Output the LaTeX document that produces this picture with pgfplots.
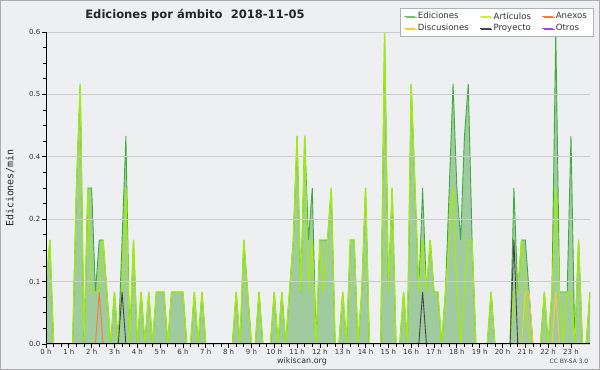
\documentclass[border=0pt]{standalone}
\usepackage{fontspec}
\setmainfont{DejaVu Sans}
\setmonofont{DejaVu Sans Mono}
\usepackage{pgfplots}
\pgfplotsset{compat=1.18}
\usepackage{pgfplotstable}
\usetikzlibrary{shadows}

\definecolor{bg}{HTML}{EEEFF1}
\definecolor{edline}{HTML}{3DAE3D}
\definecolor{edleg}{HTML}{66CC66}
\definecolor{edfill}{HTML}{9FCB9F}
\definecolor{artline}{HTML}{A2EC0C}
\definecolor{artleg}{HTML}{CCF03A}
\definecolor{anexline}{HTML}{FF7A33}
\definecolor{discline}{HTML}{FFCC22}
\definecolor{projline}{HTML}{444444}
\definecolor{otrosline}{HTML}{9944FF}

\pgfplotstableread{
t ed art
0.00000 0.1 0.1
0.16667 0.2 0.2
0.33333 0 0
0.50000 0 0
0.66667 0 0
0.83333 0 0
1.00000 0 0
1.16667 0 0
1.33333 0.3 0.3
1.50000 0.5 0.5
1.66667 0 0
1.83333 0.3 0.3
2.00000 0.3 0.1
2.16667 0.1 0.1
2.33333 0.2 0.1
2.50000 0.2 0.2
2.66667 0.1 0.1
2.83333 0 0
3.00000 0.1 0.1
3.16667 0 0
3.33333 0.2 0.1
3.50000 0.4 0.3
3.66667 0 0
3.83333 0.2 0.2
4.00000 0 0
4.16667 0.1 0.1
4.33333 0 0
4.50000 0.1 0.1
4.66667 0 0
4.83333 0.1 0.1
5.00000 0.1 0.1
5.16667 0.1 0.1
5.33333 0 0
5.50000 0.1 0.1
5.66667 0.1 0.1
5.83333 0.1 0.1
6.00000 0.1 0.1
6.16667 0 0
6.33333 0 0
6.50000 0.1 0.1
6.66667 0 0
6.83333 0.1 0.1
7.00000 0 0
7.16667 0 0
7.33333 0 0
7.50000 0 0
7.66667 0 0
7.83333 0 0
8.00000 0 0
8.16667 0 0
8.33333 0.1 0.1
8.50000 0 0
8.66667 0.2 0.2
8.83333 0.1 0.1
9.00000 0 0
9.16667 0 0
9.33333 0.1 0.1
9.50000 0 0
9.66667 0 0
9.83333 0 0
10.00000 0.1 0.1
10.16667 0 0
10.33333 0.1 0.1
10.50000 0 0
10.66667 0.1 0.1
10.83333 0.2 0.2
11.00000 0.4 0.4
11.16667 0.1 0.1
11.33333 0.4 0.4
11.50000 0.2 0.1
11.66667 0.3 0.2
11.83333 0 0
12.00000 0.2 0.2
12.16667 0.2 0.1
12.33333 0.2 0.2
12.50000 0.3 0.3
12.66667 0 0
12.83333 0 0
13.00000 0.1 0.1
13.16667 0 0
13.33333 0.2 0.2
13.50000 0.2 0.2
13.66667 0 0
13.83333 0.1 0.1
14.00000 0.3 0.3
14.16667 0 0
14.33333 0 0
14.50000 0 0
14.66667 0 0
14.83333 0.6 0.6
15.00000 0.1 0.1
15.16667 0.3 0.3
15.33333 0 0
15.50000 0 0
15.66667 0.1 0.1
15.83333 0 0
16.00000 0.5 0.5
16.16667 0.3 0.3
16.33333 0.1 0.1
16.50000 0.3 0.2
16.66667 0.1 0.1
16.83333 0.2 0.2
17.00000 0.1 0.1
17.16667 0.1 0.1
17.33333 0 0
17.50000 0.1 0.1
17.66667 0.3 0.2
17.83333 0.5 0.3
18.00000 0.3 0.1
18.16667 0.2 0
18.33333 0.4 0.1
18.50000 0.5 0.2
18.66667 0.2 0.2
18.83333 0 0
19.00000 0 0
19.16667 0 0
19.33333 0 0
19.50000 0.1 0.1
19.66667 0 0
19.83333 0 0
20.00000 0 0
20.16667 0 0
20.33333 0 0
20.50000 0.3 0.1
20.66667 0.1 0.1
20.83333 0.2 0.2
21.00000 0.2 0.1
21.16667 0.1 0
21.33333 0 0
21.50000 0 0
21.66667 0 0
21.83333 0.1 0.1
22.00000 0 0
22.16667 0.1 0.1
22.33333 0.6 0.3
22.50000 0.1 0.1
22.66667 0.1 0
22.83333 0.1 0.1
23.00000 0.4 0.1
23.16667 0 0
23.33333 0.2 0.2
23.50000 0 0
23.66667 0 0
23.83333 0.1 0.1
}\edtable

\begin{document}
\begin{tikzpicture}
\path[use as bounding box] (-46bp,-26bp) rectangle (554bp,344bp);
\fill[bg] (-46bp,-26bp) rectangle (554bp,344bp);
\draw[gray!65, line width=1.2bp] (-45.4bp,-25.4bp) rectangle (553.4bp,343.4bp);
\begin{axis}[
  axis on top,
  at={(0,0)}, anchor=south west,
  scale only axis, width=544bp, height=312bp,
  xmin=0, xmax=23.8333, ymin=0, ymax=0.6,
  axis x line*=bottom, axis y line*=left,
  axis line style={black, line width=1bp},
  xtick={0,1,...,23},
  xticklabels={0 h,1 h,2 h,3 h,4 h,5 h,6 h,7 h,8 h,9 h,10 h,11 h,12 h,13 h,14 h,15 h,16 h,17 h,18 h,19 h,20 h,21 h,22 h,23 h},
  ytick={0,0.12,0.24,0.36,0.48,0.6},
  yticklabels={0.0,0.1,0.2,0.4,0.5,0.6},
  minor x tick num=2, minor y tick num=3,
  tick align=outside,
  major tick length=3.5bp, minor tick length=2.5bp,
  tick style={black, line width=0.8bp},
  ymajorgrids,
  major grid style={draw=black!20, line width=0.8bp},
  ticklabel style={font=\fontsize{7}{8}\selectfont, text=black!80},
  xticklabel style={inner sep=1.5bp},
  yticklabel style={inner sep=2bp},
  legend columns=3,
  legend style={at={(1.0055,1.077)}, anchor=north east, draw=gray!60, fill=white,
    font=\fontsize{8.6}{10}\selectfont, text=black!80, inner xsep=4bp, inner ysep=2bp,
    row sep=-0.5bp,
    drop shadow={shadow xshift=1.2bp, shadow yshift=-1.2bp, fill=gray!75, opacity=1},
    /tikz/every even column/.append style={column sep=9bp}},
  legend cell align=left,
  legend image code/.code={\draw[#1, line width=0.9bp] (0bp,0bp) -- (11bp,0bp);},
]
\addplot[fill=edfill, draw=none, forget plot] table[x=t, y=ed] {\edtable} \closedcycle;
\addplot[edline, line width=0.9bp, forget plot] table[x=t, y=ed] {\edtable};
\addplot[artline, line width=1.2bp, forget plot] table[x=t, y=art] {\edtable};
\addplot[anexline, line width=0.9bp, forget plot] coordinates {(2.16667,0) (2.33333,0.1) (2.5,0)};
\addplot[discline, line width=0.9bp, forget plot] coordinates {(20.8333,0) (21,0.1) (21.16667,0.1) (21.3333,0)};
\addplot[discline, line width=0.9bp, forget plot] coordinates {(22.16667,0) (22.3333,0.1) (22.5,0)};
\addplot[projline, line width=0.9bp, forget plot] coordinates {(3.16667,0) (3.33333,0.1) (3.5,0)};
\addplot[projline, line width=0.9bp, forget plot] coordinates {(16.3333,0) (16.5,0.1) (16.66667,0)};
\addplot[projline, line width=0.9bp, forget plot] coordinates {(20.3333,0) (20.5,0.2) (20.66667,0)};
\addlegendimage{edleg}
\addlegendentry{Ediciones}
\addlegendimage{artleg}
\addlegendentry{Artículos}
\addlegendimage{anexline}
\addlegendentry{Anexos}
\addlegendimage{discline}
\addlegendentry{Discusiones}
\addlegendimage{projline}
\addlegendentry{Proyecto}
\addlegendimage{otrosline}
\addlegendentry{Otros}
\end{axis}
\node[font=\bfseries\fontsize{11.6}{13}\selectfont, text=black!85] at (149bp,329bp) {Ediciones por ámbito\hspace{0.7em}2018-11-05};
\node[font=\ttfamily\fontsize{10}{12}\selectfont, rotate=90, text=black!85] at (-36bp,156bp) {Ediciones/min};
\node[font=\fontsize{8}{9}\selectfont, text=black!80] at (256bp,-17bp) {wikiscan.org};
\node[font=\fontsize{6}{7}\selectfont, text=black!75] at (523bp,-17bp) {CC BY-SA 3.0};
\end{tikzpicture}
\end{document}
